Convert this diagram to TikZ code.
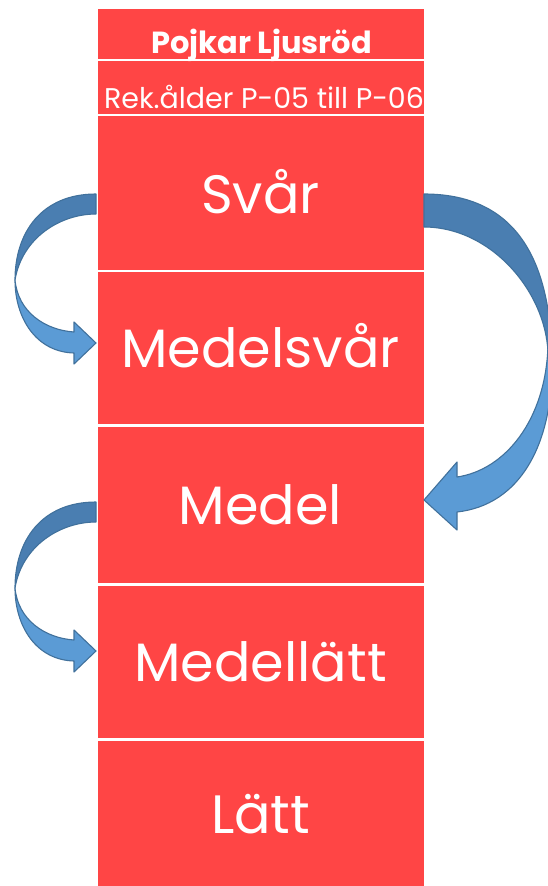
\documentclass[tikz,border=0pt]{standalone}
\usepackage{fontspec}
\setmainfont{Poppins}
\definecolor{cellred}{HTML}{FF4545}
\definecolor{arrdark}{HTML}{4A7EB1}
\definecolor{arrlight}{HTML}{5B9BD5}
\definecolor{arrline}{HTML}{41719C}
\tikzset{
  cell/.style={fill=cellred, draw=none, inner sep=0pt, minimum width=326.2pt},
  lbl/.style={text=white, inner sep=0pt, anchor=base},
  bigl/.style={lbl, font=\fontsize{54}{54}\selectfont},
  backpart/.style={fill=arrdark, draw=arrline, line width=1.1pt, line join=round},
  frontpart/.style={fill=arrlight, draw=arrline, line width=1.1pt, line join=round}
}
\begin{document}
\begin{tikzpicture}[x=1pt,y=-1pt]
\useasboundingbox (0,0) rectangle (547,886);
% cells
\node[cell, minimum height=49.5pt]  (r1) at (260.6,33.75) {};
\node[cell, minimum height=52.5pt]  (r2) at (260.6,87.25) {};
\node[cell, minimum height=153.5pt] (r3) at (260.6,192.75) {};
\node[cell, minimum height=152pt]   (r4) at (260.6,348) {};
\node[cell, minimum height=156.5pt] (r5) at (260.6,504.75) {};
\node[cell, minimum height=152pt]   (r6) at (260.6,662) {};
\node[cell, minimum height=145.5pt] (r7) at (260.6,813.25) {};
% labels
\node[lbl, font=\fontsize{30.5}{30.5}\selectfont\bfseries] (t1) at (261.5,53) {Pojkar Ljusröd};
\node[lbl, font=\fontsize{28.5}{28.5}\selectfont] (t2) at (264,108) {Rek.ålder P-05 till P-06};
\node[bigl] (t3) at (260.6,213) {Svår};
\node[bigl] (t4) at (260.6,367) {Medelsvår};
\node[bigl] (t5) at (260.6,524) {Medel};
\node[bigl] (t6) at (260.6,681) {Medellätt};
\node[bigl] (t7) at (260.6,833) {Lätt};
% left arrows (Svår -> Medelsvår, Medel -> Medellätt)
\foreach \dy in {0,308}{
\begin{scope}[yshift=-\dy pt]
\path[backpart] (96,194) .. controls (42,194) and (15,232) .. (15,280)
   .. controls (22,238) and (60,214) .. (96,214) -- cycle;
\path[frontpart] (15,280) .. controls (15,318) and (36,352) .. (74,353)
   -- (74,364) -- (96,343) -- (74,322) -- (74,332)
   .. controls (45,330) and (18,312) .. (15,280) -- cycle;
\end{scope}}
% right arrow (Svår -> Medel)
\path[backpart] (424,194) .. controls (509,194) and (552,250) .. (552,365)
   -- (548,352) .. controls (545,290) and (490,227) .. (424,227) -- cycle;
\path[frontpart] (548,345) .. controls (546,420) and (505,470) .. (457,477)
   -- (457,462) -- (424,500) -- (457,530) -- (457,512)
   .. controls (520,505) and (552,445) .. (552,365) -- cycle;
\end{tikzpicture}
\end{document}
